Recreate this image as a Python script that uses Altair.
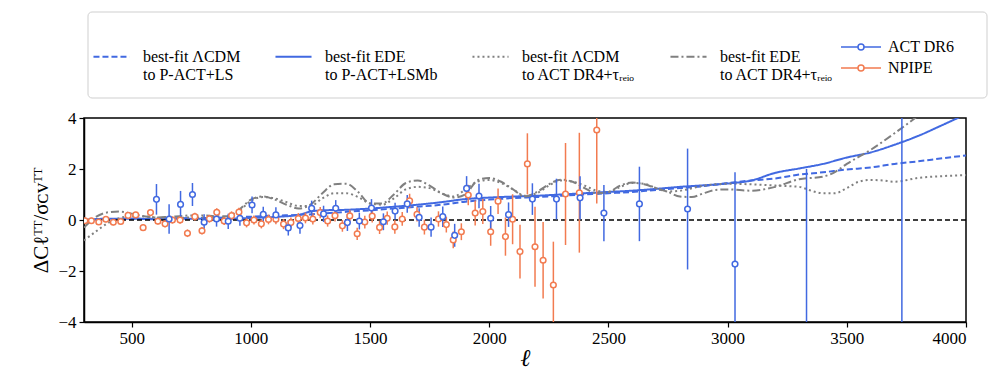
import altair as alt
import pandas as pd

# ---------------- data ----------------
# ACT DR6 band powers (ell, value, 1-sigma)
act_ell = [604, 657, 705, 755, 804, 856, 905, 954, 1005, 1052, 1105, 1157, 1206, 1255,
           1305, 1356, 1405, 1455, 1506, 1556, 1605, 1656, 1706, 1756, 1805, 1855, 1905,
           1957, 2006, 2081, 2181, 2282, 2381, 2481, 2630, 2832, 3031, 3331, 3731]
act_val = [0.81, 0.04, 0.61, 1.00, -0.09, 0.04, -0.05, 0.07, 0.59, 0.22, 0.20, -0.31, -0.22, 0.46,
           0.24, 0.46, -0.10, -0.04, 0.47, -0.07, 0.35, 0.63, 0.10, -0.28, 0.13, -0.60, 1.24,
           0.94, 0.07, 0.21, 0.82, 0.82, 0.87, 0.27, 0.63, 0.43, -1.73, -6.0, -5.0]
act_err = [0.60, 0.58, 0.53, 0.45, 0.32, 0.30, 0.30, 0.30, 0.33, 0.30, 0.30, 0.30, 0.32, 0.30,
           0.32, 0.32, 0.33, 0.33, 0.35, 0.33, 0.33, 0.35, 0.36, 0.38, 0.40, 0.45, 0.48,
           0.48, 0.48, 0.48, 0.62, 0.80, 0.85, 1.10, 1.46, 2.37, 3.60, 8.0, 10.0]

# NPIPE band powers
np_ell = [304, 331, 362, 392, 423, 454, 485, 517, 548, 579, 610, 640, 671, 703, 734, 765, 795,
          826, 857, 888, 919, 950, 982, 1013, 1044, 1074, 1105, 1137, 1168, 1199, 1229, 1260,
          1291, 1322, 1353, 1384, 1415, 1446, 1478, 1509, 1540, 1572, 1604, 1635, 1666, 1697,
          1728, 1787, 1820, 1849, 1883, 1912, 1941, 1973, 2006, 2037, 2068, 2098, 2129, 2160,
          2192, 2226, 2269, 2320, 2378, 2451]
np_val = [-0.03, -0.03, -0.08, 0.03, -0.09, -0.06, 0.18, 0.20, -0.30, 0.29, -0.05, -0.15, 0.0,
          0.0, -0.52, 0.13, -0.42, 0.05, 0.30, -0.04, 0.17, 0.31, -0.11, 0.0, -0.15, 0.02, 0.03,
          -0.16, -0.10, 0.06, 0.08, 0.04, 0.29, -0.04, 0.17, -0.23, 0.16, -0.54, -0.08, 0.15,
          -0.29, 0.07, -0.27, 0.04, 0.75, 0.22, -0.28, 0.04, -0.18, -0.78, -0.46, 0.98, 0.27,
          0.33, -0.46, 0.74, -0.65, 0.03, -1.24, 2.20, -1.05, -1.58, -2.55, 1.02, 1.07, 3.53]
np_err = [0.12, 0.12, 0.12, 0.12, 0.12, 0.12, 0.12, 0.12, 0.13, 0.13, 0.13, 0.13, 0.14, 0.15,
          0.15, 0.15, 0.15, 0.15, 0.16, 0.16, 0.17, 0.17, 0.18, 0.18, 0.18, 0.19, 0.2, 0.2,
          0.2, 0.21, 0.21, 0.22, 0.22, 0.22, 0.23, 0.23, 0.24, 0.24, 0.25, 0.25, 0.26, 0.26,
          0.27, 0.27, 0.28, 0.28, 0.29, 0.3, 0.31, 0.33, 0.33, 0.4, 0.49, 0.49, 0.55, 0.5,
          0.75, 0.98, 1.05, 1.2, 1.57, 1.5, 1.7, 2.0, 2.35, 2.88]

# best-fit LCDM to P-ACT+LS (dashed blue)
lcdm_pact_ell = [300, 400, 500, 600, 700, 800, 900, 1000, 1100, 1200, 1300, 1400, 1500, 1600,
                 1700, 1800, 1900, 2000, 2100, 2200, 2300, 2400, 2500, 2600, 2700, 2800, 2900,
                 3000, 3100, 3200, 3300, 3400, 3500, 3600, 3700, 3800, 3900, 4000]
lcdm_pact_val = [0.0, 0.03, 0.05, 0.05, 0.07, 0.08, 0.10, 0.13, 0.17, 0.20, 0.25, 0.32, 0.38,
                 0.45, 0.52, 0.60, 0.72, 0.80, 0.86, 0.90, 0.95, 1.00, 1.05, 1.10, 1.18, 1.25,
                 1.33, 1.45, 1.55, 1.63, 1.78, 1.87, 1.98, 2.06, 2.20, 2.30, 2.42, 2.53]

# best-fit EDE to P-ACT+LSMb (solid blue)
ede_pact_ell = [300, 400, 500, 600, 700, 800, 900, 1000, 1100, 1200, 1250, 1300, 1400, 1500,
                1600, 1700, 1800, 1900, 2000, 2100, 2200, 2300, 2400, 2500, 2600, 2700, 2800,
                2900, 3000, 3100, 3200, 3300, 3400, 3500, 3600, 3700, 3800, 3900, 4000]
ede_pact_val = [0.0, 0.05, 0.05, 0.03, 0.05, 0.05, 0.05, 0.08, 0.12, 0.20, 0.33, 0.38, 0.40,
                0.45, 0.52, 0.60, 0.70, 0.82, 0.88, 0.92, 0.95, 1.00, 1.05, 1.10, 1.15, 1.22,
                1.30, 1.36, 1.43, 1.55, 1.85, 2.02, 2.20, 2.45, 2.65, 2.95, 3.30, 3.72, 4.15]

# best-fit LCDM to ACT DR4+tau (dotted gray)
lcdm_dr4_ell = [300, 350, 400, 450, 500, 550, 600, 650, 700, 750, 800, 850, 900, 950, 1000,
                1050, 1100, 1150, 1200, 1250, 1300, 1350, 1400, 1450, 1500, 1550, 1600, 1650,
                1700, 1750, 1800, 1850, 1900, 1950, 2000, 2050, 2100, 2150, 2200, 2250, 2300,
                2350, 2400, 2450, 2500, 2550, 2600, 2650, 2700, 2750, 2800, 2900, 3000, 3100,
                3200, 3300, 3350, 3400, 3450, 3500, 3550, 3600, 3650, 3700, 3800, 3900, 4000]
lcdm_dr4_val = [-0.80, -0.45, -0.12, 0.08, 0.15, 0.15, 0.10, 0.08, 0.08, 0.10, 0.10, 0.08,
                0.12, 0.35, 0.75, 0.90, 0.85, 0.70, 0.55, 0.55, 0.85, 1.05, 1.05, 0.90, 0.65,
                0.60, 0.85, 1.20, 1.30, 1.25, 1.05, 0.92, 1.20, 1.50, 1.57, 1.45, 1.20, 0.95,
                1.05, 1.35, 1.55, 1.50, 1.35, 1.15, 1.10, 1.30, 1.45, 1.42, 1.25, 1.12, 1.15,
                1.35, 1.42, 1.40, 1.35, 1.30, 1.15, 1.05, 1.05, 1.25, 1.50, 1.57, 1.55, 1.50,
                1.65, 1.72, 1.76]

# best-fit EDE to ACT DR4+tau (dash-dot gray)
ede_dr4_ell = [300, 350, 400, 450, 500, 550, 600, 650, 700, 750, 800, 850, 900, 950, 1000,
               1050, 1100, 1150, 1200, 1250, 1300, 1350, 1400, 1450, 1500, 1550, 1600, 1650,
               1700, 1750, 1800, 1850, 1900, 1950, 2000, 2050, 2100, 2150, 2200, 2250, 2300,
               2350, 2400, 2450, 2500, 2550, 2600, 2650, 2700, 2750, 2800, 2850, 2900, 2950,
               3000, 3100, 3200, 3300, 3400, 3450, 3500, 3600, 3700, 3800, 3900, 4000]
ede_dr4_val = [-0.30, 0.12, 0.30, 0.33, 0.25, 0.15, 0.10, 0.12, 0.15, 0.18, 0.18, 0.15, 0.15,
               0.40, 0.80, 0.92, 0.80, 0.60, 0.45, 0.60, 1.05, 1.40, 1.42, 1.10, 0.65, 0.65,
               1.00, 1.45, 1.55, 1.35, 1.05, 0.88, 1.00, 1.55, 1.65, 1.50, 1.20, 0.92, 1.10,
               1.40, 1.58, 1.50, 1.25, 1.05, 1.10, 1.35, 1.47, 1.40, 1.25, 1.10, 0.92, 0.90,
               1.05, 1.18, 1.20, 1.15, 1.30, 1.60, 1.70, 1.88, 2.20, 2.75, 3.40, 4.10, 4.90, 5.60]

model_names = [
    "best-fit ΛCDM|to P-ACT+LS",
    "best-fit EDE|to P-ACT+LSMb",
    "best-fit ΛCDM|to ACT DR4+τᵣₑᵢₒ",
    "best-fit EDE|to ACT DR4+τᵣₑᵢₒ",
]
dataset_names = ["ACT DR6", "NPIPE"]

BLUE = "#4169e1"
ORANGE = "#f27b50"
GRAY = "#808080"
FONT = "'Liberation Serif', 'Times New Roman', 'DejaVu Serif', serif"

# ---------------- tables ----------------
curves = [(lcdm_pact_ell, lcdm_pact_val), (ede_pact_ell, ede_pact_val),
          (lcdm_dr4_ell, lcdm_dr4_val), (ede_dr4_ell, ede_dr4_val)]
rows = []
for name, (ls, vs) in zip(model_names, curves):
    for l, v in zip(ls, vs):
        rows.append({"ell": l, "val": v, "model": name})
lines_df = pd.DataFrame(rows)

pts = []
for name, (ls, vs, es) in zip(dataset_names, [(act_ell, act_val, act_err), (np_ell, np_val, np_err)]):
    for l, v, e in zip(ls, vs, es):
        pts.append({"ell": l, "val": v, "lo": v - e, "hi": v + e, "dataset": name})
pts_df = pd.DataFrame(pts)
pts_df["order"] = pts_df["dataset"].map({"NPIPE": 0, "ACT DR6": 1})
pts_df = pts_df.sort_values("order")

xscale = alt.Scale(domain=[300, 4000], nice=False, zero=False)
yscale = alt.Scale(domain=[-4, 4], nice=False)
xaxis = alt.Axis(values=[500, 1000, 1500, 2000, 2500, 3000, 3500, 4000], format="d", title="ℓ",
                 titleFontStyle="italic", titleFontSize=24, titlePadding=0, grid=False)
yaxis = alt.Axis(values=[-4, -2, 0, 2, 4], format="d", title="ΔCℓᵀᵀ/σᴄᴠᵀᵀ", grid=False,
                 titlePadding=6)

line_legend = alt.Legend(
    title=None, orient="none", legendX=8, legendY=-81, direction="horizontal",
    symbolType="stroke", symbolSize=1300, symbolStrokeWidth=2,
    labelFont=FONT, labelFontSize=16, labelColor="black", labelExpr="split(datum.label, '|')",
    labelOffset=12, columnPadding=30, labelLimit=300,
)
data_legend = alt.Legend(
    title=None, orient="none", legendX=766, legendY=-82, direction="vertical",
    symbolType="M-2,0L-0.3,0M0.3,0L2,0M0.3,0A0.3,0.3,0,1,1,-0.3,0A0.3,0.3,0,1,1,0.3,0Z",
    symbolSize=400, symbolStrokeWidth=1.5, symbolFillColor="white",
    labelFont=FONT, labelFontSize=16, labelColor="black", labelOffset=16, rowPadding=2,
)

frame = alt.Chart(pd.DataFrame({"k": [0]})).mark_rect(
    fill="white", stroke="#cfcfcf", strokeWidth=1, cornerRadius=4, clip=False
).encode(x=alt.value(4), x2=alt.value(903), y=alt.value(-106), y2=alt.value(-20))

lines = alt.Chart(lines_df).mark_line(strokeWidth=2, clip=True, interpolate="monotone").encode(
    x=alt.X("ell:Q", scale=xscale, axis=xaxis),
    y=alt.Y("val:Q", scale=yscale, axis=yaxis),
    color=alt.Color("model:N", scale=alt.Scale(domain=model_names, range=[BLUE, BLUE, GRAY, GRAY]),
                    legend=line_legend),
    strokeDash=alt.StrokeDash("model:N", scale=alt.Scale(
        domain=model_names, range=[[6, 3], [1, 0], [2, 3], [8, 3, 2, 3]]), legend=line_legend),
    detail="model:N",
)

zero = alt.Chart(pd.DataFrame({"k": [0]})).mark_rule(
    color="black", strokeDash=[5, 3], strokeWidth=1.5
).encode(y=alt.datum(0))

stroke_enc = alt.Stroke("dataset:N", scale=alt.Scale(domain=dataset_names, range=[BLUE, ORANGE]),
                        legend=data_legend)

errbars = alt.Chart(pts_df).mark_rule(strokeWidth=1.5, clip=True).encode(
    x="ell:Q", y="lo:Q", y2="hi:Q", stroke=stroke_enc, order="order:Q"
)
points = alt.Chart(pts_df).mark_point(
    shape="circle", filled=True, fill="white", strokeWidth=1.5, size=32, opacity=1, clip=True
).encode(x="ell:Q", y="val:Q", stroke=stroke_enc, order="order:Q")

chart = alt.layer(frame, lines, zero, errbars, points).properties(
    width=882, height=204,
    autosize=alt.AutoSizeParams(type="none"),
    padding={"left": 84, "top": 118, "right": 34, "bottom": 53},
    background="white",
).configure_view(
    stroke="black", strokeWidth=1.5
).configure_axis(
    labelFont=FONT, labelFontSize=17, labelColor="black",
    titleFont=FONT, titleFontSize=21, titleFontWeight="normal", titleColor="black",
    tickColor="black", tickSize=5, tickWidth=1.2, domainColor="black", domainWidth=1.5,
    labelPadding=3,
)

chart.save("out.html", embed_options={"renderer": "svg", "actions": False})
